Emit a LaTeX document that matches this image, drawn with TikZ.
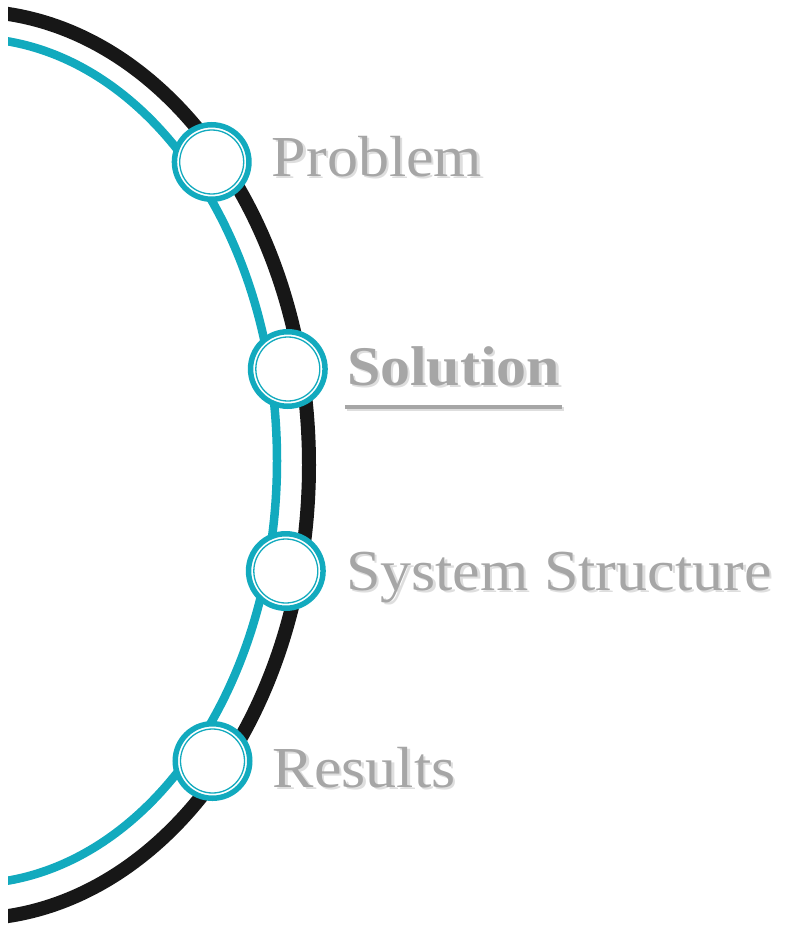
\documentclass[tikz,border=0pt]{standalone}
\usepackage{fontspec}
\usetikzlibrary{positioning}
\newfontfamily\labelfont[FakeStretch=1.07]{Liberation Serif}
\definecolor{ringteal}{RGB}{18,170,190}
\definecolor{arcblack}{RGB}{23,23,23}
\definecolor{labelgray}{RGB}{166,166,166}
\definecolor{shadegray}{RGB}{222,222,222}
\newcommand{\shadowed}[1]{\makebox[0pt][l]{\hspace{2.5pt}\raisebox{-2.5pt}{\color{shadegray}#1}}#1}

\tikzset{
  stopring/.style={circle, fill=white, draw=ringteal, line width=5.5pt, minimum size=74.5pt, inner sep=0pt,
    path picture={\draw[ringteal, line width=1.3pt] (path picture bounding box.center) circle (32pt);}},
  topic/.style={inner sep=0pt, text=labelgray, font=\labelfont\fontsize{58}{60}\selectfont},
}

\begin{document}
\begin{tikzpicture}[x=1pt, y=-1pt, node distance=20pt]
			\useasboundingbox (0,0) rectangle (794,933);
			
			\begin{scope}
				\clip (8,0) rectangle (794,933);
				\draw[arcblack, line width=14pt] (-31,465) ellipse [x radius=340, y radius=454];
				\draw[ringteal, line width=8.5pt] (-31,461) ellipse [x radius=308, y radius=423];
			\end{scope}
			
			\node[stopring] (prob) at (211.7,162) {};
			\node[stopring] (sol) at (287.8,369) {};
			\node[stopring] (sys) at (285.8,571) {};
			\node[stopring] (res) at (212.5,761) {};
			
			\node[topic, right=of prob, anchor=base west, yshift=-14.5pt] (probtext) {\shadowed{Problem}};
			\node[topic, font=\labelfont\bfseries\fontsize{56}{60}\selectfont, right=19pt of sol, anchor=base west, yshift=-16pt] (soltext) {\shadowed{Solution}};
			\node[topic, right=of sys, anchor=base west, yshift=-19pt] (systext) {\shadowed{System Structure}};
			\node[topic, right=of res, anchor=base west, yshift=-26pt] (restext) {\shadowed{Results}};
			
			\draw[shadegray, line width=4pt] ([xshift=0pt,yshift=-24pt]soltext.base west) -- ([xshift=4pt,yshift=-24pt]soltext.base east);
			\draw[labelgray, line width=4pt] ([xshift=-2pt,yshift=-22pt]soltext.base west) -- ([xshift=2pt,yshift=-22pt]soltext.base east);
		\end{tikzpicture}
\end{document}
